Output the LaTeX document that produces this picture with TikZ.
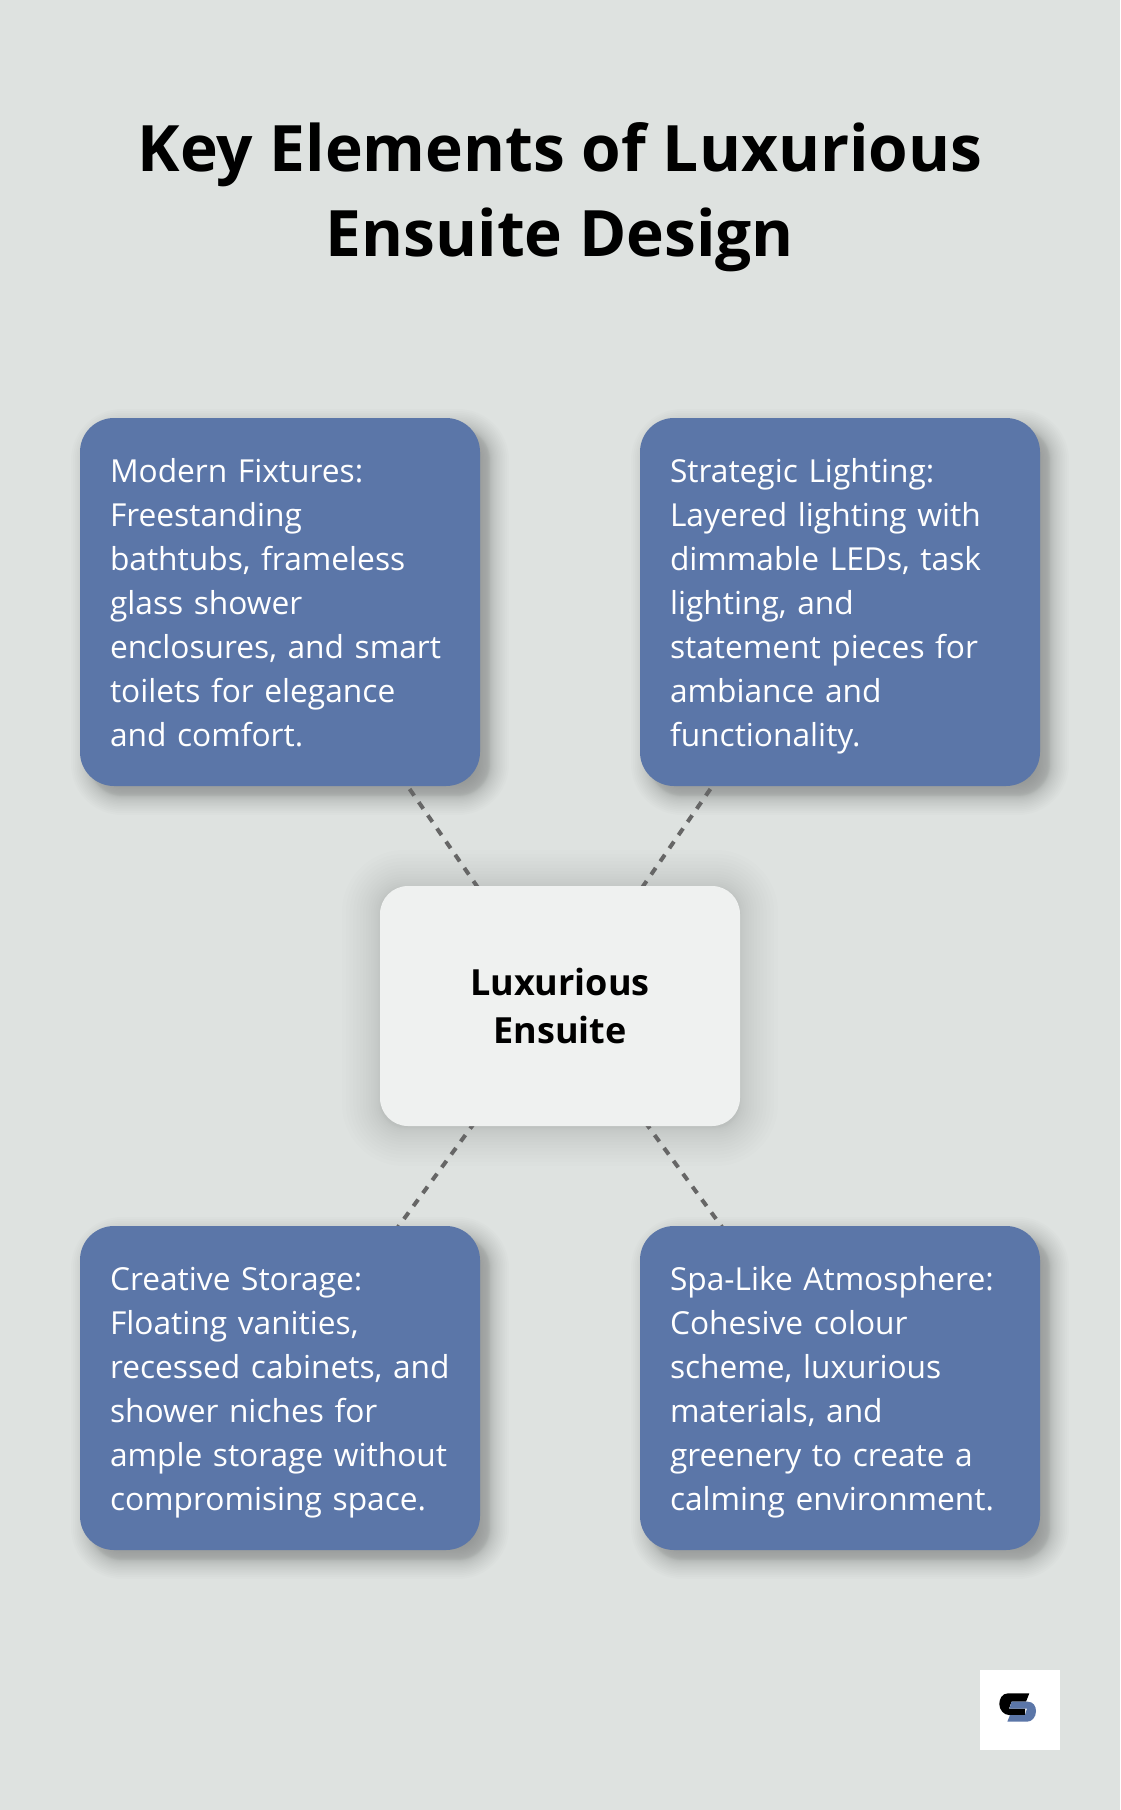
\documentclass[tikz,border=0pt]{standalone}
\usepackage{fontspec}
\setmainfont{Open Sans}
\pgfdeclarelayer{paperlayer}
\pgfdeclarelayer{connlayer}
\pgfsetlayers{paperlayer,connlayer,main}
\definecolor{pagebg}{HTML}{DEE2E0}
\definecolor{boxblue}{HTML}{5B76A8}
\definecolor{centrebox}{HTML}{EFF1F0}
\definecolor{dashgrey}{HTML}{666666}
\newcommand{\softshadow}[7]{% x1,y1,x2,y2,radius,blur,strength
  \foreach \k in {0,...,29}{
    \pgfmathsetmacro{\tt}{1-2*(\k+0.5)/30}
    \pgfmathsetmacro{\gr}{#6*\tt*sqrt(abs(\tt))}
    \pgfmathsetmacro{\rr}{max(#5+\gr,1)}
    \fill[black,opacity=#7,rounded corners=\rr pt] ({#1-\gr},{#2-\gr}) rectangle ({#3+\gr},{#4+\gr});
  }
}
\newcommand{\toprule}{\rule[-10pt]{0pt}{44pt}}
\tikzset{
  x=1pt,y=-1pt,
  bluebox/.style={fill=boxblue,rounded corners=34pt,minimum width=400pt,inner sep=0pt,text=white,
    font=\fontsize{31.7}{44}\selectfont,align=left,text width=340pt,
    execute at begin node=\toprule,execute at end node=\toprule},
  hubbox/.style={fill=centrebox,rounded corners=28pt,minimum width=360pt,minimum height=240pt,inner sep=0pt,
    font=\fontsize{36}{48}\bfseries\selectfont,align=center,
    execute at begin node=\rule{0pt}{34pt}},
  titletext/.style={font=\fontsize{64}{85}\bfseries\selectfont,align=center,inner sep=0pt,text=black},
  linkline/.style={draw=dashgrey,line width=4pt,dash pattern=on 8pt off 8pt},
}
\begin{document}
\begin{tikzpicture}
\useasboundingbox (0,0) rectangle (1120,1810);
\begin{pgfonlayer}{paperlayer}
\fill[pagebg] (0,0) rectangle (1120,1810);
\softshadow{90}{428}{490}{796}{32}{20}{0.013}
\softshadow{650}{428}{1050}{796}{32}{20}{0.013}
\softshadow{90}{1236}{490}{1560}{32}{20}{0.013}
\softshadow{650}{1236}{1050}{1560}{32}{20}{0.013}
\softshadow{380}{888}{740}{1128}{24}{40}{0.007}
\end{pgfonlayer}
\node[titletext] (title) at (560,197) {Key Elements of Luxurious\\Ensuite Design};
\node[bluebox,minimum height=368pt] (tl) at (280,602) {Modern Fixtures:\\Freestanding\\bathtubs, frameless\\glass shower\\enclosures, and smart\\toilets for elegance\\and comfort.};
\node[bluebox,minimum height=368pt] (tr) at (840,602) {Strategic Lighting:\\Layered lighting with\\dimmable LEDs, task\\lighting, and\\statement pieces for\\ambiance and\\functionality.};
\node[bluebox,minimum height=324pt] (bl) at (280,1388) {Creative Storage:\\Floating vanities,\\recessed cabinets, and\\shower niches for\\ample storage without\\compromising space.};
\node[bluebox,minimum height=324pt] (br) at (840,1388) {Spa-Like Atmosphere:\\Cohesive colour\\scheme, luxurious\\materials, and\\greenery to create a\\calming environment.};
\node[hubbox] (hub) at (560,1006) {Luxurious\\Ensuite};
\begin{pgfonlayer}{connlayer}
\draw[linkline] (hub.center) -- (tl.center);
\draw[linkline] (hub.center) -- (tr.center);
\draw[linkline] (hub.center) -- (bl.center);
\draw[linkline] (hub.center) -- (br.center);
\end{pgfonlayer}
% logo
\fill[white] (980,1670) rectangle (1060,1750);
\fill[black] (1029.3,1693.3) -- (1008,1693.3) .. controls (1002,1693.3) and (999.3,1699) .. (999.3,1704) .. controls (999.3,1710) and (1004,1715) .. (1009,1715) -- (1025,1715) -- (1025,1708.5) -- (1009,1708.5) -- (1011.5,1701.7) -- (1026,1701.7) -- cycle;
\fill[boxblue] (1011.5,1701.7) -- (1028,1701.7) .. controls (1033,1701.7) and (1036,1706) .. (1036,1711) .. controls (1036,1717) and (1032,1721.7) .. (1027,1721.7) -- (1007.3,1721.7) -- (1010,1715) -- (1025,1715) -- (1027,1708.5) -- (1009.5,1708.5) -- cycle;
\end{tikzpicture}
\end{document}
